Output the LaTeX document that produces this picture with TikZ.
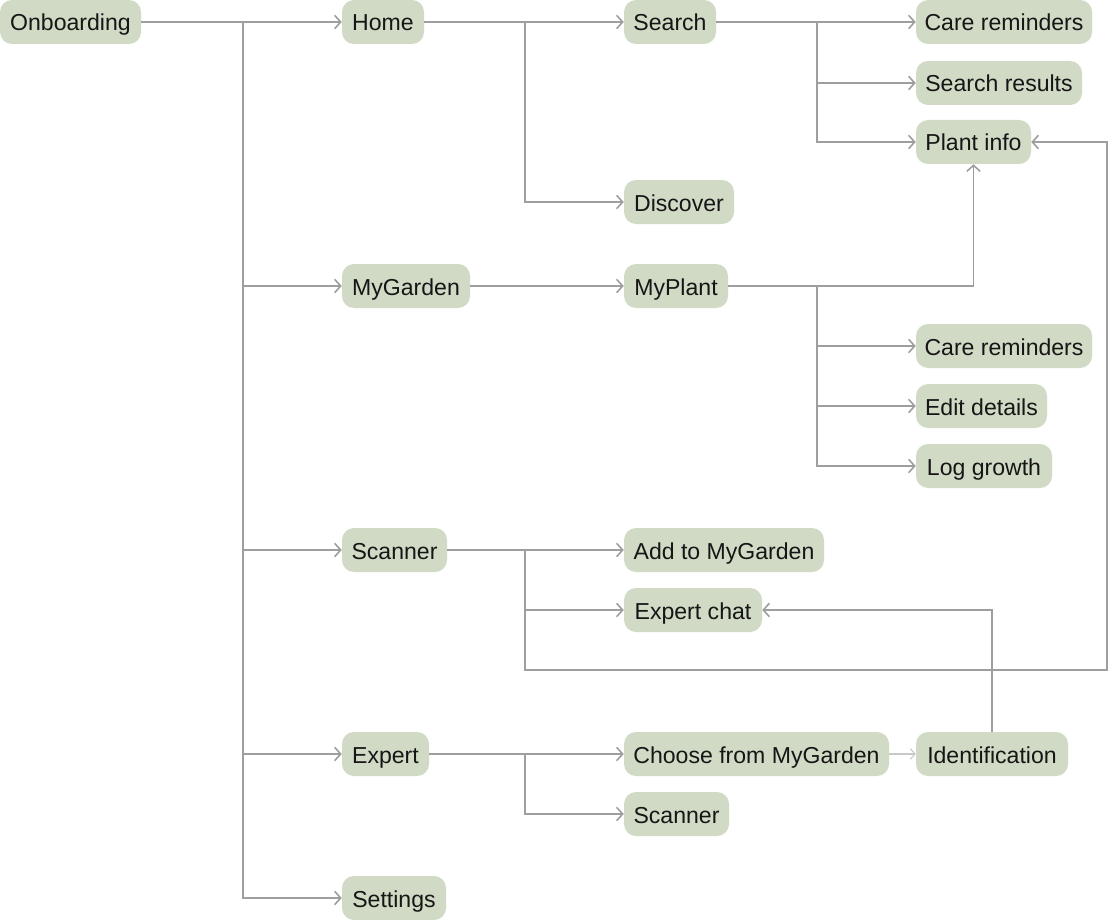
\documentclass[tikz,border=0pt]{standalone}
\usepackage{fontspec}
\setmainfont{Liberation Sans}
\usetikzlibrary{arrows.meta}
\definecolor{boxfill}{RGB}{208,218,196}
\definecolor{linegray}{RGB}{158,158,158}
\definecolor{lightline}{RGB}{200,200,200}
\definecolor{txt}{RGB}{22,22,22}
\tikzset{
  box/.style={fill=boxfill, rounded corners=9pt, minimum width=#1*0.75pt, minimum height=33pt, inner sep=0pt, text height=15pt, text depth=1.5pt, text=txt, font=\fontsize{17.3pt}{20pt}\selectfont},
  conn/.style={draw=linegray, line width=1.45pt},
  arr/.style={conn, -{Straight Barb[length=4.5pt,width=10pt,line width=1.2pt]}},
  lightarr/.style={draw=lightline, line width=0.9pt, -{Straight Barb[length=3.5pt,width=8pt,line width=0.8pt]}},
}
\begin{document}
\begin{tikzpicture}[x=0.75pt,y=-0.75pt]
\useasboundingbox (0,0) rectangle (1109,920);
% nodes
\node[box=141] (onb) at (70.5,22) {Onboarding};
\node[box=82] (home) at (383,22) {Home};
\node[box=92] (search) at (670,22) {Search};
\node[box=176] (care1) at (1004,22) {Care reminders};
\node[box=166] (results) at (999,83) {Search results};
\node[box=115] (plant) at (973.5,142) {Plant info};
\node[box=110] (discover) at (679,202) {Discover};
\node[box=128] (mygarden) at (406,286) {MyGarden};
\node[box=104] (myplant) at (676,286) {MyPlant};
\node[box=176] (care2) at (1004,346) {Care reminders};
\node[box=131] (edit) at (981.5,406) {Edit details};
\node[box=136] (log) at (984,466) {Log growth};
\node[box=105] (scanner) at (394.5,550) {Scanner};
\node[box=200] (add) at (724,550) {Add to MyGarden};
\node[box=138] (chat) at (693,610) {Expert chat};
\node[box=87] (expert) at (385.5,754) {Expert};
\node[box=265] (choose) at (756.5,754) {Choose from MyGarden};
\node[box=152] (ident) at (992,754) {Identification};
\node[box=105] (scanner2) at (676.5,814) {Scanner};
\node[box=104] (settings) at (394,898) {Settings};
% junction coordinates
\coordinate (j1) at (243,22);
\coordinate (j2) at (525,22);
\coordinate (j3) at (817,22);
\coordinate (j4) at (817,286);
\coordinate (j5) at (525,550);
\coordinate (j6) at (525,754);
\coordinate (c1) at (525,670);
\coordinate (c2) at (1107,670);
\coordinate (c3) at (1107,142);
% connectors
\draw[arr] (onb.east) -- (home.west);
\draw[arr] (j1) |- (mygarden.west);
\draw[arr] (j1) |- (scanner.west);
\draw[arr] (j1) |- (expert.west);
\draw[arr] (j1) |- (settings.west);
\draw[arr] (home.east) -- (search.west);
\draw[arr] (j2) |- (discover.west);
\draw[arr] (search.east) -- (care1.west);
\draw[arr] (j3) |- (results.west);
\draw[arr] (j3) |- (plant.west);
\draw[arr] (mygarden.east) -- (myplant.west);
\draw[arr] (myplant.east) -| (plant.south);
\draw[arr] (j4) |- (care2.west);
\draw[arr] (j4) |- (edit.west);
\draw[arr] (j4) |- (log.west);
\draw[arr] (scanner.east) -- (add.west);
\draw[arr] (j5) |- (chat.west);
\draw[arr] (j5) -- (c1) -- (c2) -- (c3) -- (plant.east);
\draw[arr] (expert.east) -- (choose.west);
\draw[arr] (j6) |- (scanner2.west);
\draw[lightarr] (choose.east) -- (ident.west);
\draw[arr] (ident.north) |- (chat.east);
\end{tikzpicture}
\end{document}
